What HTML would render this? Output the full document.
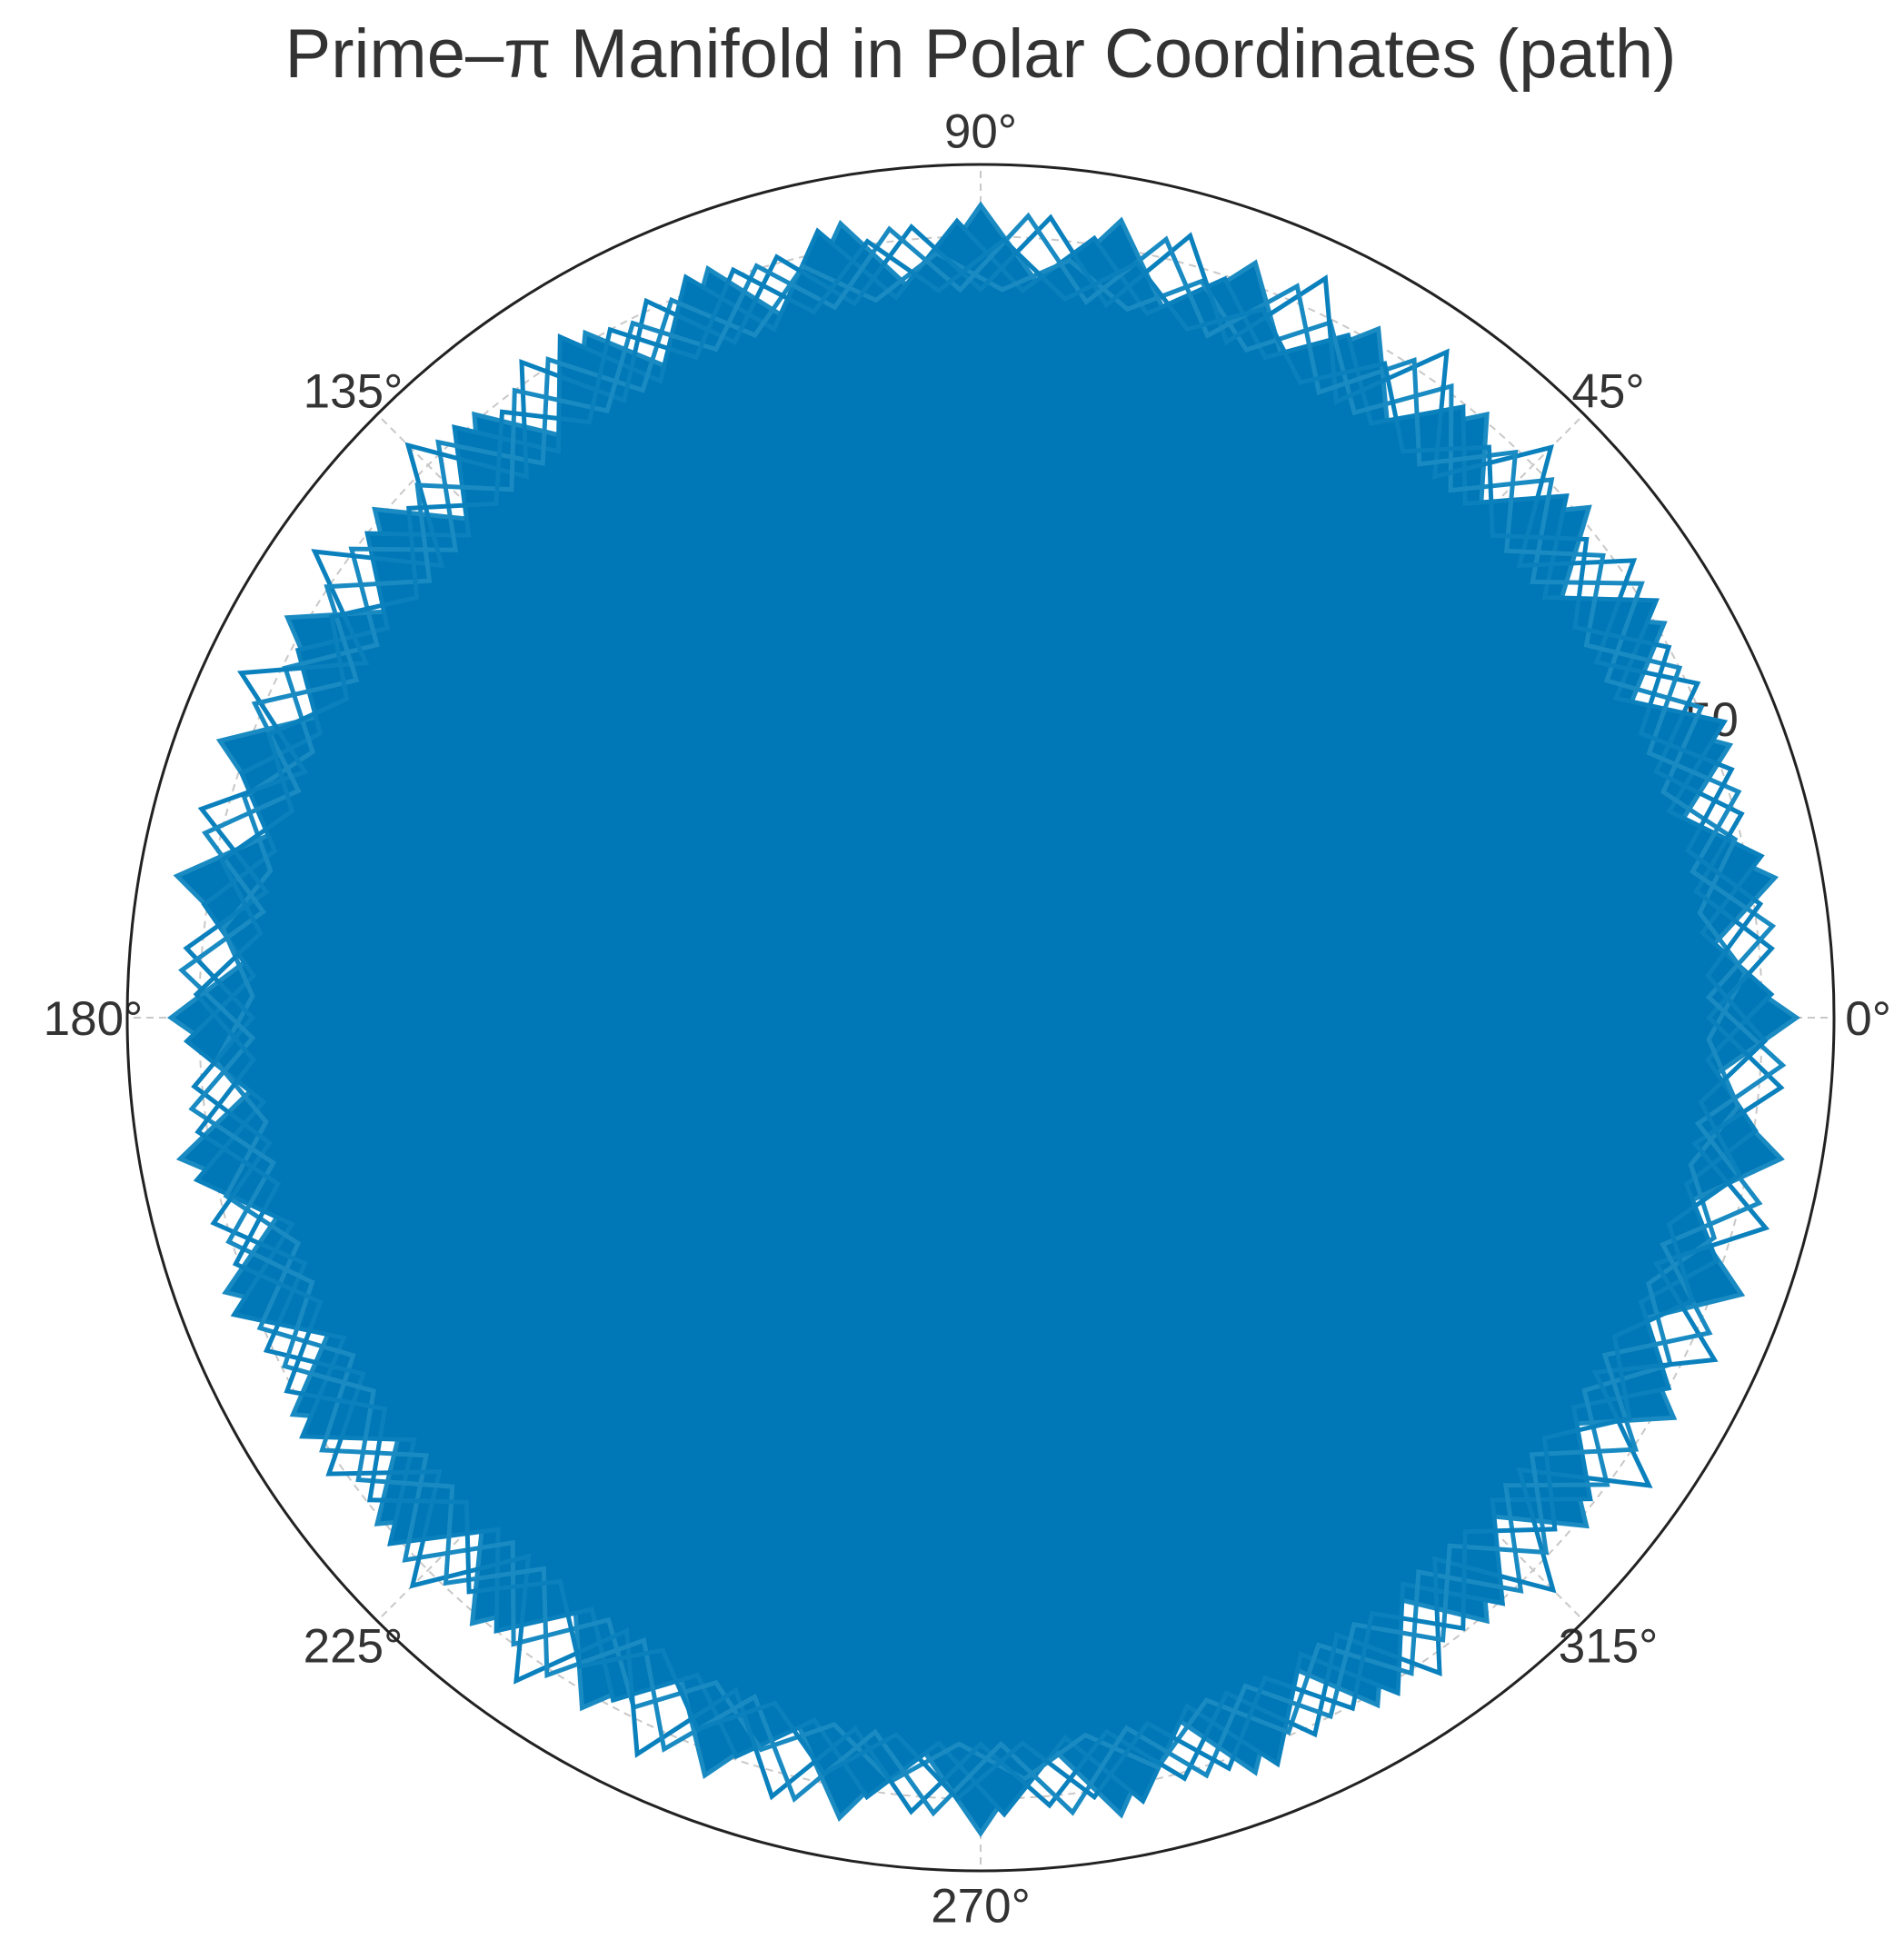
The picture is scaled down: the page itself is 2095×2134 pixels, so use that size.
<!DOCTYPE html>
<html>
<head>
<meta charset="utf-8">
<style>
  html,body{margin:0;padding:0;background:#fff;}
  svg{display:block;}
  text{font-family:"Liberation Sans","DejaVu Sans",sans-serif;fill:#333;}
</style>
</head>
<body>
<svg id="chart" width="2095" height="2134" viewBox="0 0 2095 2134" xmlns="http://www.w3.org/2000/svg">
  <text x="1079" y="85" font-size="76" text-anchor="middle">Prime–π Manifold in Polar Coordinates (path)</text>
  <g id="grid"></g>
  <g id="series"></g>
  <g id="labels"></g>
</svg>
<script>
// ---- data ----
const angleTicks = [0, 45, 90, 135, 180, 225, 270, 315];
const angleTickLabels = ["0°", "45°", "90°", "135°", "180°", "225°", "270°", "315°"];
const radialTicks = [50];
const radialTickLabels = ["50"];
const rMax = 54.6;
// outer spike radii every 10 degrees (0..350)
const spikeAngles = [0,10,20,30,40,50,60,70,80,90,100,110,120,130,140,150,160,170,180,190,200,210,220,230,240,250,260,270,280,290,300,310,320,330,340,350];
const outerR = [52.2,51.6,51.0,50.5,50.8,50.4,50.9,51.4,51.8,52.0,51.6,51.0,50.6,50.4,50.6,51.2,51.8,52.2,51.8,52.0,51.4,50.8,50.4,50.6,51.0,51.6,52.0,52.2,51.8,51.4,50.8,50.4,50.6,51.2,51.8,52.0];
const innerR = [46.5,46.0,45.5,45.0,45.2,45.5,46.0,46.3,46.6,46.4,46.0,45.6,45.2,45.0,45.4,46.0,46.4,46.6,46.2,46.0,45.6,45.2,45.0,45.3,45.8,46.2,46.5,46.4,46.0,45.6,45.2,45.0,45.4,46.0,46.4,46.6];

// ---- axes ----
const cx = 1079, cy = 1120, R = 939;
const rScale = v => v / rMax * R;
const px = (deg, r) => cx + rScale(r) * Math.cos(deg * Math.PI / 180);
const py = (deg, r) => cy - rScale(r) * Math.sin(deg * Math.PI / 180);
const NS = "http://www.w3.org/2000/svg";
const mk = (tag, attrs, parent) => { const e = document.createElementNS(NS, tag); for (const k in attrs) e.setAttribute(k, attrs[k]); parent.appendChild(e); return e; };

const grid = document.getElementById('grid');
angleTicks.forEach(a => {
  const l = mk('line', {x1: cx, y1: cy, x2: px(a, rMax), y2: py(a, rMax), stroke: '#c8c8c8', 'stroke-width': 2, 'stroke-dasharray': '8 6'}, grid);
  
  
});
radialTicks.forEach(r => {
  const c = mk('circle', {cx: cx, cy: cy, r: rScale(r), fill: 'none', stroke: '#c8c8c8', 'stroke-width': 2, 'stroke-dasharray': '8 6'}, grid);
  
  
});

const series = document.getElementById('series');
const core = mk('circle', {cx: cx, cy: cy, r: rScale(45.5), fill: '#0077b6'}, series);


const offsets = [0, 1.7, 3.3, 5.0, 6.6, 8.3];
offsets.forEach((off, k) => {
  let d = '';
  spikeAngles.forEach((a, i) => {
    const aa = a + off;
    const ai = aa + 5;
    const ro = outerR[(i + k * 7) % outerR.length] - (k % 3) * 0.8;
    d += (i === 0 ? 'M' : 'L') + px(aa, ro).toFixed(1) + ',' + py(aa, ro).toFixed(1) + ' ';
    d += 'L' + px(ai, innerR[i]).toFixed(1) + ',' + py(ai, innerR[i]).toFixed(1) + ' ';
  });
  d += 'Z';
  const p = mk('path', {d: d, fill: k < 2 ? '#0077b6' : 'none', stroke: k % 2 ? '#0a80bd' : '#1a8bc2', 'stroke-width': 5, 'stroke-linejoin': 'miter'}, series);
  
  
});

const frame = mk('circle', {cx: cx, cy: cy, r: R, fill: 'none', stroke: '#222', 'stroke-width': 3}, grid.parentNode);



const labels = document.getElementById('labels');
angleTicks.forEach((a, i) => {
  const lr = rMax * 1.04;
  const t = mk('text', {x: px(a, lr), y: py(a, lr) + 19, 'font-size': 53, 'text-anchor': 'middle'}, labels);
  t.textContent = angleTickLabels[i];
  
  
});
radialTicks.forEach((r, i) => {
  const t = mk('text', {x: px(22.5, r) + 10, y: py(22.5, r) + 19, 'font-size': 53, 'text-anchor': 'middle'}, labels);
  t.textContent = radialTickLabels[i];
  
  
});
series.parentNode.insertBefore(labels.lastChild, series);
</script>
</body>
</html>
